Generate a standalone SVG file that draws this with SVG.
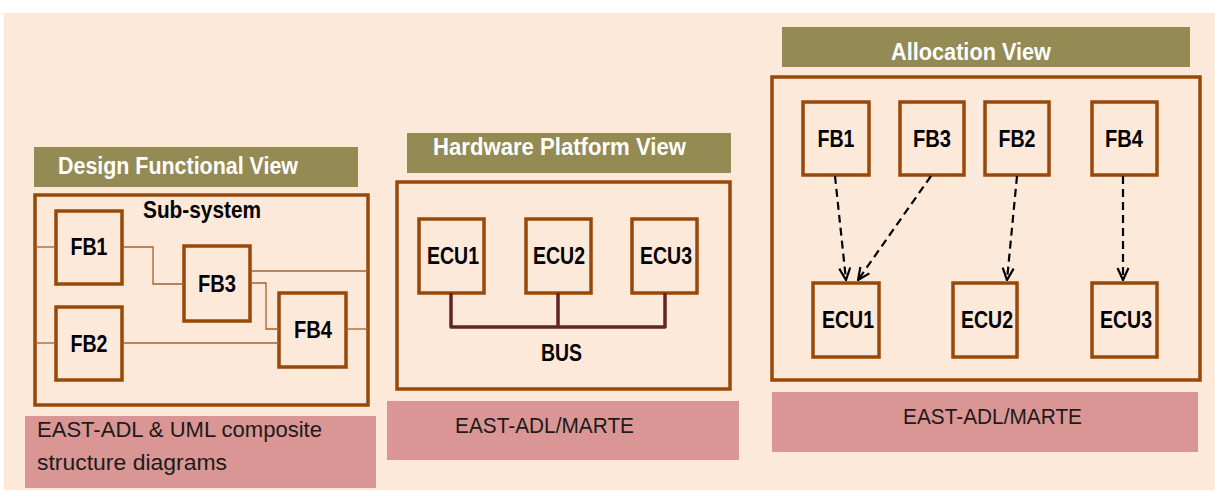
<svg xmlns="http://www.w3.org/2000/svg" width="1215" height="494" viewBox="0 0 1215 494">
<style>
.bg{fill:#FDE9D9}
.hdr{fill:#948A54}
.hdrt{font-family:"Liberation Sans",Arial,sans-serif;font-weight:bold;font-size:23px;fill:#FFFFFF}
.frame{fill:none;stroke:#984807;stroke-width:3.5}
.box{fill:none;stroke:#984807;stroke-width:3.5}
.lbl{font-family:"Liberation Sans",Arial,sans-serif;font-weight:bold;font-size:24px;fill:#000000;text-anchor:middle}
.pink{fill:#D99694}
.pt{font-family:"Liberation Sans",Arial,sans-serif;font-size:22px;fill:#1E1A1A}
.wire{fill:none;stroke:#A5602E;stroke-width:1.3}
.bus{fill:none;stroke:#632523;stroke-width:3.5;stroke-linejoin:round}
.alloc{fill:none;stroke:#000000;stroke-width:2.2;stroke-dasharray:8 5;marker-end:url(#open)}
</style>
<defs>
<marker id="open" viewBox="0 0 14 14" refX="13" refY="7" markerWidth="14" markerHeight="14" markerUnits="userSpaceOnUse" orient="auto">
<path d="M1,1.5 L13,7 L1,12.5" fill="none" stroke="#000000" stroke-width="2.2"/>
</marker>
</defs>
<rect class="bg" x="4" y="13" width="1211" height="477"/>

<!-- Design Functional View -->
<g id="design-view">
<rect class="hdr" x="34" y="147" width="324" height="40"/>
<text class="hdrt" x="58" y="174" textLength="240" lengthAdjust="spacingAndGlyphs">Design Functional View</text>
<rect class="frame" x="35" y="195" width="333" height="210"/>
<text class="lbl" x="202" y="218" font-size="21" textLength="118" lengthAdjust="spacingAndGlyphs">Sub-system</text>
</g>
<g id="dfv-fb1"><rect class="box" x="56" y="211" width="66" height="73"/><text class="lbl" x="89" y="255" textLength="37" lengthAdjust="spacingAndGlyphs">FB1</text></g>
<g id="dfv-fb2"><rect class="box" x="56" y="307" width="66" height="73"/><text class="lbl" x="89" y="352" textLength="37" lengthAdjust="spacingAndGlyphs">FB2</text></g>
<g id="dfv-fb3"><rect class="box" x="184" y="246" width="66" height="75"/><text class="lbl" x="217" y="292" textLength="38" lengthAdjust="spacingAndGlyphs">FB3</text></g>
<g id="dfv-fb4"><rect class="box" x="279" y="293" width="67" height="74"/><text class="lbl" x="313" y="338" textLength="38" lengthAdjust="spacingAndGlyphs">FB4</text></g>
<g id="dfv-label">
<rect class="pink" x="25" y="416" width="351" height="72"/>
<text class="pt" x="37" y="437" textLength="285" lengthAdjust="spacingAndGlyphs">EAST-ADL &amp; UML composite</text>
<text class="pt" x="37" y="470" textLength="190" lengthAdjust="spacingAndGlyphs">structure diagrams</text>
</g>

<!-- Hardware Platform View -->
<g id="hw-view">
<rect class="hdr" x="407" y="133" width="324" height="40"/>
<text class="hdrt" x="433" y="155" textLength="253" lengthAdjust="spacingAndGlyphs">Hardware Platform View</text>
<rect class="frame" x="397" y="182" width="333" height="207"/>
<text class="lbl" x="561.5" y="361" font-size="22" textLength="41" lengthAdjust="spacingAndGlyphs">BUS</text>
</g>
<g id="hw-ecu1"><rect class="box" x="419" y="219" width="65" height="74"/><text class="lbl" x="453" y="264" textLength="52" lengthAdjust="spacingAndGlyphs">ECU1</text></g>
<g id="hw-ecu2"><rect class="box" x="526" y="219" width="65" height="74"/><text class="lbl" x="559" y="264" textLength="52" lengthAdjust="spacingAndGlyphs">ECU2</text></g>
<g id="hw-ecu3"><rect class="box" x="632" y="219" width="65" height="74"/><text class="lbl" x="666" y="264" textLength="52" lengthAdjust="spacingAndGlyphs">ECU3</text></g>
<g id="hw-label">
<rect class="pink" x="387" y="401" width="352" height="59"/>
<text class="pt" x="455" y="433" textLength="179" lengthAdjust="spacingAndGlyphs">EAST-ADL/MARTE</text>
</g>

<!-- Allocation View -->
<g id="alloc-view">
<rect class="hdr" x="782" y="27" width="408" height="40"/>
<text class="hdrt" x="891" y="60" textLength="160" lengthAdjust="spacingAndGlyphs">Allocation View</text>
<rect class="frame" x="772" y="77" width="428" height="303"/>
</g>
<g id="av-fb1"><rect class="box" x="803" y="102" width="66" height="73"/><text class="lbl" x="836" y="147" textLength="37" lengthAdjust="spacingAndGlyphs">FB1</text></g>
<g id="av-fb3"><rect class="box" x="900" y="102" width="64" height="73"/><text class="lbl" x="932" y="147" textLength="38" lengthAdjust="spacingAndGlyphs">FB3</text></g>
<g id="av-fb2"><rect class="box" x="985" y="102" width="64" height="73"/><text class="lbl" x="1017" y="147" textLength="37" lengthAdjust="spacingAndGlyphs">FB2</text></g>
<g id="av-fb4"><rect class="box" x="1092" y="102" width="65" height="73"/><text class="lbl" x="1124" y="147" textLength="38" lengthAdjust="spacingAndGlyphs">FB4</text></g>
<g id="av-ecu1"><rect class="box" x="813" y="283" width="66" height="74"/><text class="lbl" x="848" y="328" textLength="52" lengthAdjust="spacingAndGlyphs">ECU1</text></g>
<g id="av-ecu2"><rect class="box" x="953" y="283" width="64" height="74"/><text class="lbl" x="987" y="328" textLength="52" lengthAdjust="spacingAndGlyphs">ECU2</text></g>
<g id="av-ecu3"><rect class="box" x="1092" y="283" width="65" height="74"/><text class="lbl" x="1126" y="328" textLength="52" lengthAdjust="spacingAndGlyphs">ECU3</text></g>
<g id="av-label">
<rect class="pink" x="772" y="392" width="426" height="60"/>
<text class="pt" x="903" y="424" textLength="179" lengthAdjust="spacingAndGlyphs">EAST-ADL/MARTE</text>
</g>

<g id="connectors">
<path class="wire" d="M35,247 H56"/>
<path class="wire" d="M122,247 H153 V284 H184"/>
<path class="wire" d="M250,271 H368"/>
<path class="wire" d="M250,283 H266 V329 H279"/>
<path class="wire" d="M346,329 H368"/>
<path class="wire" d="M35,343 H56"/>
<path class="wire" d="M122,343 H279"/>
<path class="bus" d="M451,293 V327 H665 V293"/>
<path class="bus" d="M558,293 V327"/>
<path class="alloc" d="M835,176 L846,280"/>
<path class="alloc" d="M931,176 L858,280"/>
<path class="alloc" d="M1017,176 L1007,280"/>
<path class="alloc" d="M1123,176 L1123,280"/>
</g>
</svg>
